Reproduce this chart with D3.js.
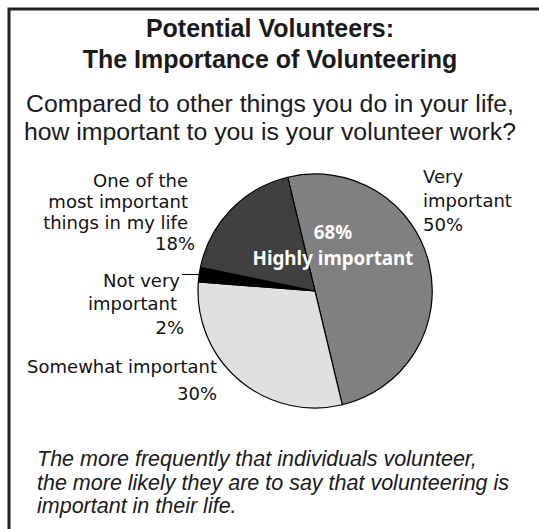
<!DOCTYPE html>
<html>
<head>
<meta charset="utf-8">
<script src="https://cdn.jsdelivr.net/npm/d3@7"></script>
<style>
  html, body { margin: 0; padding: 0; background: #fff; }
  svg { display: block; }
</style>
</head>
<body>
<script>
// Survey answers: how important volunteer work is, in percent
const categories = ["Very important", "Somewhat important", "Not very important", "One of the most important things in my life"];
const values = [50, 30, 2, 18];
const labelLines = [
  ["Very", "important", "50%"],
  ["Somewhat important", "30%"],
  ["Not very", "important", "2%"],
  ["One of the", "most important", "things in my life", "18%"]
];
const highlyValue = values[0] + values[3];

const titleLines = ["Potential Volunteers:", "The Importance of Volunteering"];
const questionLines = ["Compared to other things you do in your life,", "how important to you is your volunteer work?"];
const noteLines = ["The more frequently that individuals volunteer,", "the more likely they are to say that volunteering is", "important in their life."];

const W = 539, H = 529;
const svg = d3.select("body").append("svg").attr("width", W).attr("height", H);

// outer frame (right and bottom edges run off the page)
svg.append("rect").attr("x", 9).attr("y", 9).attr("width", W + 20).attr("height", H + 20)
  .attr("fill", "none").attr("stroke", "#222").attr("stroke-width", 3);

const sans = "'Liberation Sans', Arial, sans-serif";
const labelFont = "'DejaVu Sans', 'Noto Sans', sans-serif";

// multi-line text block as one <text> with one <tspan> per line
function block(parent, lines, xs, ys) {
  const t = parent.append("text");
  t.selectAll("tspan").data(lines).join("tspan")
    .attr("x", (d, j) => xs[j]).attr("y", (d, j) => ys[j]).text(d => d);
  return t;
}

block(svg, titleLines, [270, 270], [37, 68])
  .attr("text-anchor", "middle").attr("font-family", sans).attr("font-weight", "bold")
  .attr("font-size", 25).attr("fill", "#1a1a1a");

block(svg, questionLines, [270, 270], [112, 140])
  .attr("text-anchor", "middle").attr("font-family", sans)
  .attr("font-size", 24.8).attr("fill", "#1a1a1a");

block(svg, noteLines, [37, 37, 37], [466, 489.5, 513])
  .attr("font-family", sans).attr("font-style", "italic")
  .attr("font-size", 21.5).attr("fill", "#1a1a1a");

// pie
const cx = 315, cy = 291, R = 117;
const color = d3.scaleOrdinal().domain(categories).range(["#808080", "#e0e0e0", "#000000", "#404040"]);
const startOffset = -13.5 * Math.PI / 180;
const pie = d3.pie().sort(null).value(d => d.v)
  .startAngle(startOffset).endAngle(startOffset + 2 * Math.PI);
const arcs = pie(categories.map((c, i) => ({ c, v: values[i], lines: labelLines[i] })));
const arc = d3.arc().innerRadius(0).outerRadius(R);

const g = svg.append("g").attr("transform", `translate(${cx},${cy})`);
g.selectAll("path").data(arcs).join("path")
  .attr("d", arc).attr("fill", d => color(d.data.c))
  .attr("stroke", "#000").attr("stroke-width", 1.2).attr("stroke-linejoin", "round");

// slice labels beside the pie: anchor x per line and baseline per line
const labelPlace = [
  { anchor: "start", xs: [108, 108, 108], ys: [-108, -84, -60] },
  { anchor: "end", xs: [-98, -98], ys: [82, 109] },
  { anchor: "end", xs: [-135, -138, -131], ys: [-4, 19, 43] },
  { anchor: "end", xs: [-127, -127, -127, -120], ys: [-104, -83, -62, -41] }
];
arcs.forEach((a, i) => {
  const p = labelPlace[i];
  block(g, a.data.lines, p.xs, p.ys)
    .attr("text-anchor", p.anchor).attr("font-family", labelFont)
    .attr("font-size", 18).attr("fill", "#111");
});

// leader line for the thin slice
const thin = arcs[2];
const mid = (thin.startAngle + thin.endAngle) / 2;
const ex = R * Math.sin(mid), ey = -R * Math.cos(mid);
g.append("line").attr("x1", ex).attr("y1", ey).attr("x2", -133).attr("y2", ey)
  .attr("stroke", "#000").attr("stroke-width", 1);

// combined share of the two top answers
block(g, [highlyValue + "%", "Highly important"], [18, 18], [-52, -26])
  .attr("text-anchor", "middle").attr("font-family", "'Noto Sans', sans-serif").attr("font-weight", "bold")
  .attr("font-size", 18.8).attr("fill", "#fff");
</script>
</body>
</html>
